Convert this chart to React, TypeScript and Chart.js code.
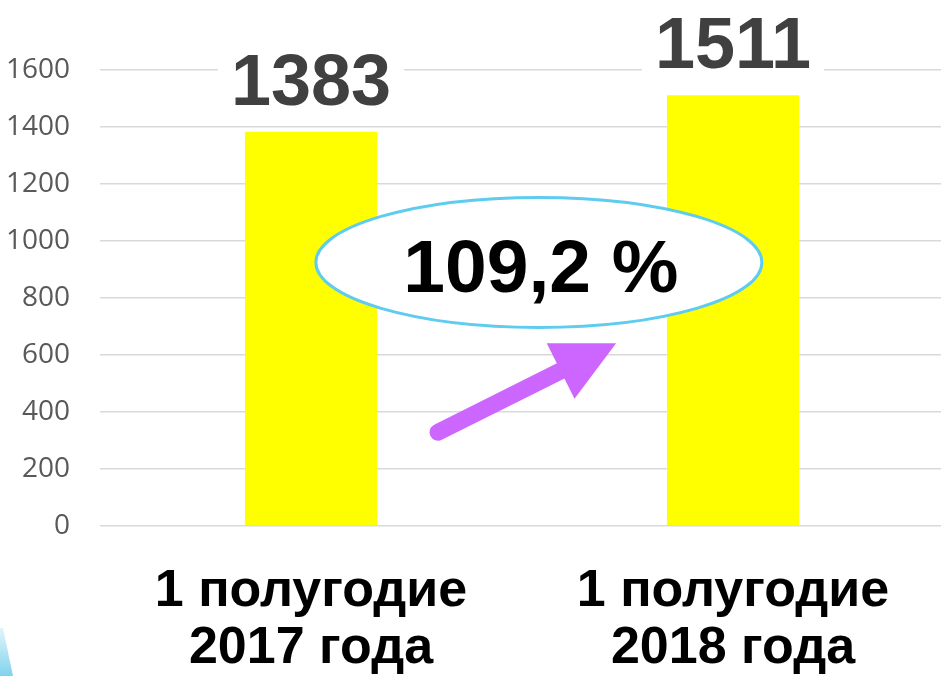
import React, { useEffect, useRef } from "react";
import { Chart, registerables } from "chart.js";

Chart.register(...registerables);

// ---- data ----
const categories: string[][] = [
  ["1 полугодие", "2017 года"],
  ["1 полугодие", "2018 года"],
];
const values: number[] = [1383, 1511];
const yMin = 0;
const yMax = 1600;
const yStep = 200;
const growthLabel = "109,2 %";
// annotation anchors (category index / value units)
const ellipseAnchor = { index: 0.54, value: 925 };
const arrowTail = { index: 0.301, value: 329 };
const arrowTip = { index: 0.723, value: 641 };

const BOLD_FONT = "'Liberation Sans', Arial, sans-serif";

const labelsPlugin = {
  id: "valueLabels",
  afterDatasetsDraw(chart: any) {
    const ctx = chart.ctx as CanvasRenderingContext2D;
    const meta = chart.getDatasetMeta(0);
    ctx.save();
    ctx.font = `bold 72px ${BOLD_FONT}`;
    ctx.textAlign = "center";
    ctx.textBaseline = "alphabetic";
    meta.data.forEach((bar: any, i: number) => {
      const text = String(values[i]);
      const w = ctx.measureText(text).width;
      const baseline = bar.y - 27;
      ctx.fillStyle = "#ffffff";
      ctx.fillRect(bar.x - w / 2 - 13, baseline - 60, w + 26, 66);
      ctx.fillStyle = "#404040";
      ctx.fillText(text, bar.x, baseline);
    });
    ctx.restore();
  },
  afterDraw(chart: any) {
    const ctx = chart.ctx as CanvasRenderingContext2D;
    const xs = chart.scales.x;
    const ys = chart.scales.y;
    ctx.save();
    // ellipse
    const cx = xs.getPixelForValue(ellipseAnchor.index);
    const cy = ys.getPixelForValue(ellipseAnchor.value);
    ctx.beginPath();
    ctx.ellipse(cx, cy, 223, 65, 0, 0, Math.PI * 2);
    ctx.fillStyle = "#ffffff";
    ctx.fill();
    ctx.lineWidth = 3;
    ctx.strokeStyle = "#5ecbf0";
    ctx.stroke();
    ctx.font = `bold 75px ${BOLD_FONT}`;
    ctx.textAlign = "center";
    ctx.textBaseline = "alphabetic";
    ctx.fillStyle = "#000000";
    ctx.fillText(growthLabel, cx + 2, cy + 30);

    // arrow
    const tx = xs.getPixelForValue(arrowTail.index);
    const ty = ys.getPixelForValue(arrowTail.value);
    const hx = xs.getPixelForValue(arrowTip.index);
    const hy = ys.getPixelForValue(arrowTip.value);
    const ang = Math.atan2(hy - ty, hx - tx);
    const headLen = 62;
    const halfW = 31;
    const bx = hx - headLen * Math.cos(ang);
    const by = hy - headLen * Math.sin(ang);
    ctx.strokeStyle = "#cc66ff";
    ctx.fillStyle = "#cc66ff";
    ctx.lineWidth = 17;
    ctx.lineCap = "round";
    ctx.beginPath();
    ctx.moveTo(tx, ty);
    ctx.lineTo(bx + 4 * Math.cos(ang), by + 4 * Math.sin(ang));
    ctx.stroke();
    ctx.beginPath();
    ctx.moveTo(hx, hy);
    ctx.lineTo(bx - halfW * Math.sin(ang), by + halfW * Math.cos(ang));
    ctx.lineTo(bx + halfW * Math.sin(ang), by - halfW * Math.cos(ang));
    ctx.closePath();
    ctx.fill();

    // small decorative sliver bottom-left
    const g = ctx.createLinearGradient(0, 630, 0, 676);
    g.addColorStop(0, "rgba(140,215,240,0.3)");
    g.addColorStop(1, "#7fd2ee");
    ctx.fillStyle = g;
    ctx.beginPath();
    ctx.moveTo(0, 628);
    ctx.lineTo(3, 628);
    ctx.lineTo(13, 676);
    ctx.lineTo(0, 676);
    ctx.closePath();
    ctx.fill();
    ctx.restore();
  },
};

export default function App() {
  const ref = useRef<HTMLCanvasElement | null>(null);
  useEffect(() => {
    if (!ref.current) return;
    const chart = new Chart(ref.current, {
      type: "bar",
      data: {
        labels: categories,
        datasets: [
          {
            data: values,
            backgroundColor: "#ffff00",
            borderWidth: 0,
            categoryPercentage: 1,
            barPercentage: 0.313,
          },
        ],
      },
      options: {
        animation: false,
        responsive: false,
        maintainAspectRatio: false,
        layout: { padding: { top: 70, left: 0, right: 0, bottom: 0 } },
        plugins: {
          legend: { display: false },
          tooltip: { enabled: false },
          title: { display: false },
        },
        scales: {
          x: {
            grid: { display: false, drawTicks: false },
            border: { display: false },
            ticks: {
              color: "#000000",
              font: { family: BOLD_FONT, size: 52, weight: "bold", lineHeight: 1.08 },
              padding: 38,
              maxRotation: 0,
              autoSkip: false,
            },
            afterFit: (s: any) => {
              s.height = 150;
            },
          },
          y: {
            min: yMin,
            max: yMax,
            grid: { color: "#d9d9d9", lineWidth: 1.6, drawTicks: false },
            border: { display: false },
            ticks: {
              stepSize: yStep,
              color: "#595959",
              font: { family: "'Open Sans', sans-serif", size: 28 },
              padding: 30,
              callback: (v: any) => String(v),
            },
            afterFit: (s: any) => {
              s.width = 100;
            },
          },
        },
      },
      plugins: [labelsPlugin],
    });
    return () => chart.destroy();
  }, []);
  return (
    <div
      style={{
        position: "fixed",
        left: 0,
        top: 0,
        width: 941,
        height: 676,
        overflow: "hidden",
        background: "#ffffff",
      }}
    >
      <canvas ref={ref} width={944} height={676} style={{ display: "block" }} />
    </div>
  );
}
